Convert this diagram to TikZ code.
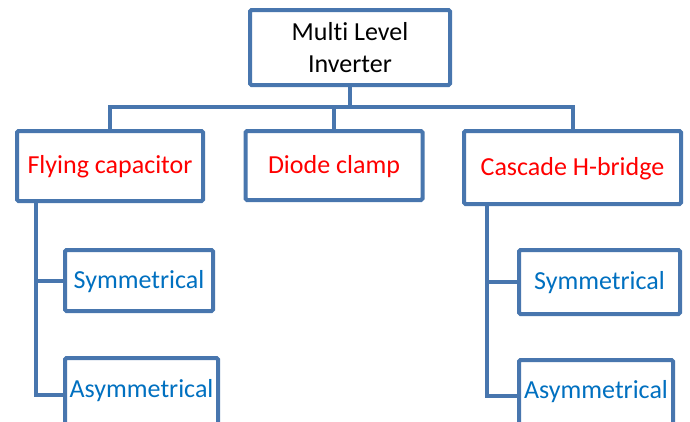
\documentclass[tikz,border=0pt]{standalone}
\usepackage{fontspec}
\setmainfont{Carlito}[Ligatures=NoCommon]
\definecolor{frame}{HTML}{4876AE}
\definecolor{headred}{HTML}{FF0000}
\definecolor{leafblue}{HTML}{0070C0}
\begin{document}
\begin{tikzpicture}[x=1pt,y=1pt,
  box/.style={draw=frame, line width=4pt, rounded corners=1.5pt, fill=white,
              outer sep=0pt, inner sep=0pt, font=\fontsize{26}{32}\selectfont},
  onerow/.style={box, text height=17.7pt, text depth=2.6pt},
  family/.style={onerow, text=headred},
  leaf/.style={onerow, text=leafblue},
  openleaf/.style={box, text=leafblue, anchor=base},
  link/.style={draw=frame, line width=4pt}
]
\useasboundingbox (0,0) rectangle (690,-421);
\clip (0,0) rectangle (690,-421);

% root
\node[box, align=center, minimum width=200pt, minimum height=75pt]
  (root) at (350,-47.5) {Multi Level\\Inverter};

% topologies
\node[family, minimum width=186pt, minimum height=70pt] (fly) at (110,-166) {Flying capacitor};
\node[family, minimum width=177pt, minimum height=69pt] (dio) at (334,-165.5) {Diode clamp};
\node[family, minimum width=217pt, minimum height=73pt] (cas) at (572.5,-167.5) {Cascade H-bridge};

% variants
\node[leaf, minimum width=148pt, minimum height=61pt] (symL) at (139,-280.5) {Symmetrical};
\node[leaf, minimum width=161pt, minimum height=64pt] (symR) at (599.5,-282) {Symmetrical};
\node[openleaf, minimum width=153pt, text height=39pt, text depth=45pt] (asymL) at (141.5,-397) {Asymmetrical};
\node[openleaf, minimum width=154pt, text height=38pt, text depth=45pt] (asymR) at (596,-398) {Asymmetrical};

% bus below the root
\coordinate (bus) at (350,-107);
\draw[link] (root.south) -- (bus);
\draw[link] (fly.north) |- (bus);
\draw[link] (cas.north) |- (bus);
\draw[link] (dio.north) -- (dio.north |- bus);

% trunks down to the variants
\coordinate (flyTrunk) at (36,-201);
\coordinate (casTrunk) at (487,-204);
\draw[link] (flyTrunk) |- (symL.west);
\draw[link] (flyTrunk) |- (asymL.mid west);
\draw[link] (casTrunk) |- (symR.west);
\draw[link] (casTrunk) |- (asymR.mid west);
\end{tikzpicture}
\end{document}
